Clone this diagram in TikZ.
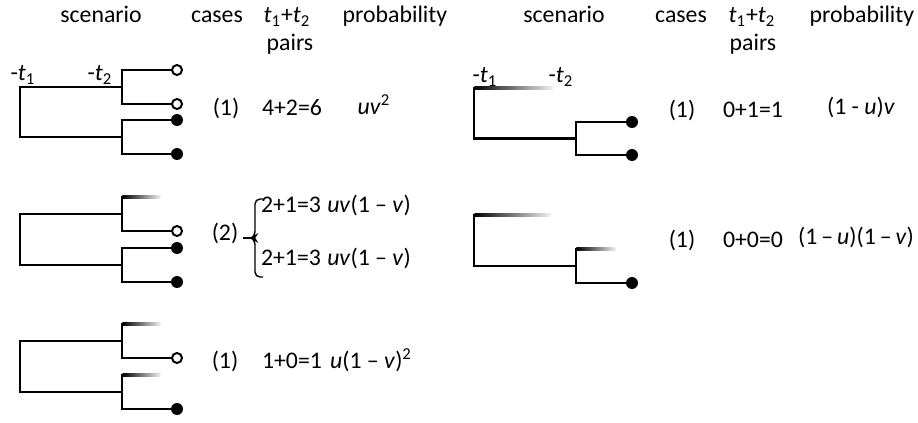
\documentclass[tikz,border=0pt]{standalone}
\usepackage{fontspec}
\setmainfont{Carlito}
\usepackage{tikz}
\usetikzlibrary{positioning}
\newcommand{\tsub}[2]{\textit{#1}\textsubscript{#2}}
\tikzset{%
  treeline/.style={line width=1.3pt, line cap=rect},
  openleaf/.style={circle, draw, line width=1pt, fill=white, inner sep=0pt, minimum size=5pt},
  fullleaf/.style={circle, fill=black, inner sep=0pt, minimum size=6pt},
  fadeleaf/.style={rectangle, inner sep=0pt, minimum height=1.3pt, minimum width=#1,
    left color=black, right color=black!6, anchor=west},
  txt/.style={font=\fontsize{11.9}{14}\selectfont, anchor=base, inner sep=0pt},
  bracelink/.style={line width=0.7pt}
}
\begin{document}
\begin{tikzpicture}[x=0.5pt, y=-0.5pt]
  \useasboundingbox (0,0) rectangle (918,423);

  % headers
  \node[txt] (scenL) at (101,23) {scenario};
  \node[txt] (caseL) at (217,23) {cases};
  \node[txt] (sumL) at (287,23) {\tsub{t}{1}+\tsub{t}{2}};
  \node[txt] (pairL) at (290,50) {pairs};
  \node[txt] (probL) at (395,23) {probability};
  \node[txt] (scenR) at (564,23) {scenario};
  \node[txt] (caseR) at (681,23) {cases};
  \node[txt] (sumR) at (752,23) {\tsub{t}{1}+\tsub{t}{2}};
  \node[txt] (pairR) at (753,50) {pairs};
  \node[txt] (probR) at (862,23) {probability};

  % left, scenario 1
  \node[txt] (t1a) at (23,81) {-\tsub{t}{1}};
  \node[txt] (t2a) at (100,81) {-\tsub{t}{2}};
  \coordinate (r1a) at (20,87);
  \coordinate (r1b) at (20,137);
  \coordinate (j1a) at (122,87);
  \coordinate (j1b) at (122,137);
  \node[openleaf] (l1a) at (177,70) {};
  \node[openleaf] (l1b) at (177,104) {};
  \node[fullleaf] (l1c) at (177,120) {};
  \node[fullleaf] (l1d) at (177,154) {};
  \draw[treeline] (j1a) -- (r1a) -- (r1b) -- (j1b);
  \draw[treeline] (l1a) -| (j1a) |- (l1b);
  \draw[treeline] (l1c) -| (j1b) |- (l1d);
  \node[txt] (c1) at (226,115) {(1)};
  \node[txt] (s1) at (292,115) {4+2=6};
  \node[txt] (p1) at (374,114) {\textit{uv}\textsuperscript{2}};

  % left, scenario 2
  \coordinate (r2a) at (20,214);
  \coordinate (r2b) at (20,265);
  \coordinate (j2a) at (122,214);
  \coordinate (j2b) at (122,265);
  \node[fadeleaf=19pt] (g2a) at (122,197) {};
  \node[openleaf] (l2b) at (177,231) {};
  \node[fullleaf] (l2c) at (177,248) {};
  \node[fullleaf] (l2d) at (177,282) {};
  \draw[treeline] (j2a) -- (r2a) -- (r2b) -- (j2b);
  \draw[treeline] (g2a.west) |- (l2b);
  \draw[treeline] (l2c) -| (j2b) |- (l2d);
  \node[txt] (c2) at (225,240) {(2)};
  \coordinate (dash2) at (243,238);
  \coordinate (tip2) at (252,238);
  \coordinate (bt2) at (263,199);
  \draw[bracelink] (dash2) -- (tip2);
  \draw[bracelink, rounded corners=2.5pt] (bt2) -- ++(-8,0) -- ++(0,37) -- (tip2)
    -- ++(3,2) -- ++(0,37) -- ++(8,0);
  \node[txt] (s2a) at (291,213) {2+1=3};
  \node[txt] (p2a) at (369,213) {\textit{uv}(1 – \textit{v})};
  \node[txt] (s2b) at (291,265) {2+1=3};
  \node[txt] (p2b) at (369,265) {\textit{uv}(1 – \textit{v})};

  % left, scenario 3
  \coordinate (r3a) at (20,341);
  \coordinate (r3b) at (20,392);
  \coordinate (j3a) at (122,341);
  \coordinate (j3b) at (122,392);
  \node[fadeleaf=19pt] (g3a) at (122,324) {};
  \node[openleaf] (l3b) at (177,358) {};
  \node[fadeleaf=19pt] (g3c) at (122,375) {};
  \node[fullleaf] (l3d) at (177,409) {};
  \draw[treeline] (j3a) -- (r3a) -- (r3b) -- (j3b);
  \draw[treeline] (g3a.west) |- (l3b);
  \draw[treeline] (g3c.west) |- (l3d);
  \node[txt] (c3) at (225,368) {(1)};
  \node[txt] (s3) at (292,368) {1+0=1};
  \node[txt] (p3) at (371,368) {\textit{u}(1 – \textit{v})\textsuperscript{2}};

  % right, scenario 1
  \node[txt] (t1b) at (485,83) {-\tsub{t}{1}};
  \node[txt] (t2b) at (561,83) {-\tsub{t}{2}};
  \coordinate (r4b) at (474,138.5);
  \coordinate (j4) at (576,138.5);
  \node[fadeleaf=39pt] (g4) at (474,88) {};
  \node[fullleaf] (l4a) at (632,122) {};
  \node[fullleaf] (l4b) at (632,155) {};
  \draw[treeline] (g4.west) -- (r4b) -- (j4);
  \draw[treeline] (l4a) -| (j4) |- (l4b);
  \node[txt] (c4) at (682,118) {(1)};
  \node[txt] (s4) at (753,118) {0+1=1};
  \node[txt] (p4) at (861,114) {(1 - \textit{u})\textit{v}};

  % right, scenario 2
  \coordinate (r5b) at (474,266);
  \coordinate (j5) at (576,266);
  \node[fadeleaf=38pt] (g5) at (474,215) {};
  \node[fadeleaf=19.5pt] (g5a) at (576,249) {};
  \node[fullleaf] (l5b) at (632,283) {};
  \draw[treeline] (g5.west) -- (r5b) -- (j5);
  \draw[treeline] (g5a.west) |- (l5b);
  \node[txt] (c5) at (682,247) {(1)};
  \node[txt] (s5) at (753,247) {0+0=0};
  \node[txt] (p5) at (856,244) {(1\,–\,\textit{u})(1\,–\,\textit{v})};
\end{tikzpicture}
\end{document}
